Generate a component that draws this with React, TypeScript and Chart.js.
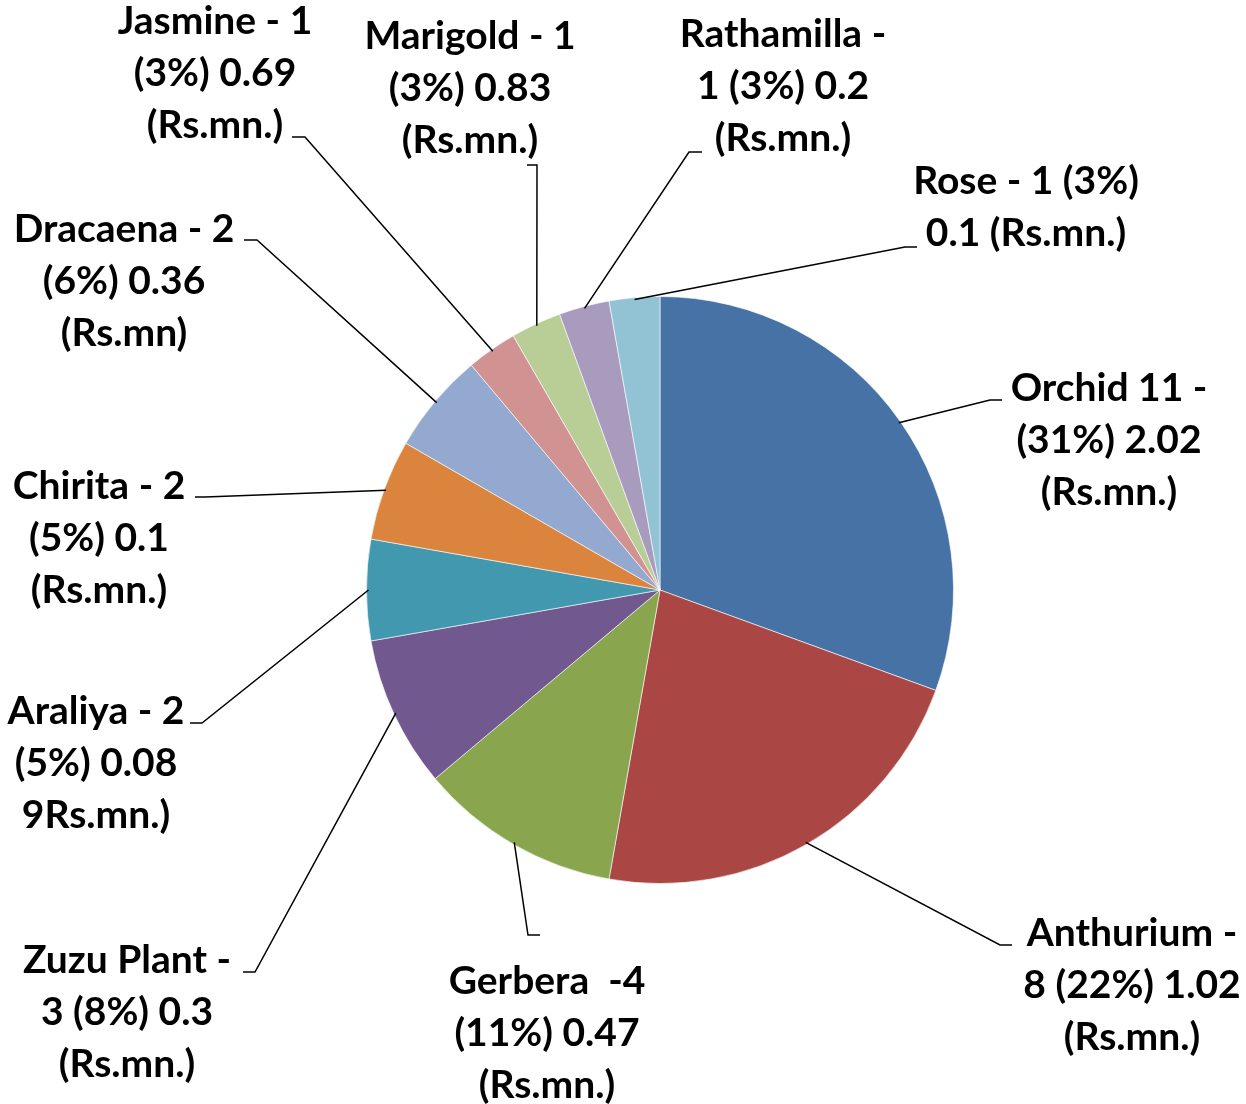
import React, { useEffect, useRef } from "react";
import { Chart, registerables } from "chart.js";

Chart.register(...registerables);

const categories = [
  "Orchid", "Anthurium", "Gerbera", "Zuzu Plant", "Araliya", "Chirita",
  "Dracaena", "Jasmine", "Marigold", "Rathamilla", "Rose",
];
const counts = [11, 8, 4, 3, 2, 2, 2, 1, 1, 1, 1];
const labelLines = [
  ["Orchid 11 -", "(31%) 2.02", "(Rs.mn.)"],
  ["Anthurium -", "8 (22%) 1.02", "(Rs.mn.)"],
  ["Gerbera  -4", "(11%) 0.47", "(Rs.mn.)"],
  ["Zuzu Plant -", "3 (8%) 0.3", "(Rs.mn.)"],
  ["Araliya - 2", "(5%) 0.08", "9Rs.mn.)"],
  ["Chirita - 2", "(5%) 0.1", "(Rs.mn.)"],
  ["Dracaena - 2", "(6%) 0.36", "(Rs.mn)"],
  ["Jasmine - 1", "(3%) 0.69", "(Rs.mn.)"],
  ["Marigold - 1", "(3%) 0.83", "(Rs.mn.)"],
  ["Rathamilla -", "1 (3%) 0.2", "(Rs.mn.)"],
  ["Rose - 1 (3%)", "0.1 (Rs.mn.)"],
];
const colors = [
  "#4672A6", "#AA4644", "#89A54E", "#71588F", "#4198AF", "#DB843D",
  "#93A9CF", "#D19392", "#B9CD96", "#A99BBD", "#92C3D4",
];

// label layout: text center x, first line center y, elbow point, line end point
const labelLayout = [
  { cx: 1109, cy: 388, elbow: [990, 400], end: [1002, 400] },
  { cx: 1132, cy: 933, elbow: [1000, 945], end: [1012, 945] },
  { cx: 547, cy: 981, elbow: [528, 935], end: [540, 935] },
  { cx: 127, cy: 960, elbow: [255, 972], end: [243, 972] },
  { cx: 96, cy: 711, elbow: [202, 723], end: [190, 723] },
  { cx: 99, cy: 486, elbow: [205, 497], end: [195, 497] },
  { cx: 124, cy: 229, elbow: [257, 240], end: [244, 240] },
  { cx: 215, cy: 21, elbow: [305, 137], end: [292, 137] },
  { cx: 470, cy: 36, elbow: [537, 165], end: [527, 165] },
  { cx: 783, cy: 34, elbow: [689, 152], end: [702, 152] },
  { cx: 1026, cy: 181, elbow: [905, 247], end: [917, 247] },
];

const LINE_H = 52;
const FONT = "bold 39px Lato";

const labelPlugin = {
  id: "pieLabels",
  afterDatasetsDraw(chart: any) {
    const ctx = chart.ctx;
    const meta = chart.getDatasetMeta(0);
    ctx.save();
    meta.data.forEach((arc: any, i: number) => {
      const { x, y, startAngle, endAngle, outerRadius } = arc.getProps(
        ["x", "y", "startAngle", "endAngle", "outerRadius"],
        true
      );
      const mid = (startAngle + endAngle) / 2;
      const sx = x + Math.cos(mid) * (outerRadius - 2);
      const sy = y + Math.sin(mid) * (outerRadius - 2);
      const L = labelLayout[i];
      ctx.strokeStyle = "#000";
      ctx.lineWidth = 1.5;
      ctx.beginPath();
      ctx.moveTo(sx, sy);
      ctx.lineTo(L.elbow[0], L.elbow[1]);
      ctx.lineTo(L.end[0], L.end[1]);
      ctx.stroke();
      ctx.fillStyle = "#000";
      ctx.font = FONT;
      ctx.textAlign = "center";
      ctx.textBaseline = "middle";
      labelLines[i].forEach((t, j) => {
        ctx.fillText(t, L.cx, L.cy + j * LINE_H);
      });
    });
    ctx.restore();
  },
};

export default function App() {
  const ref = useRef<HTMLCanvasElement>(null);
  useEffect(() => {
    if (!ref.current) return;
    const chart = new Chart(ref.current, {
      type: "pie",
      data: {
        labels: categories,
        datasets: [
          {
            data: counts,
            backgroundColor: colors,
            borderColor: "rgba(255,255,255,0.6)",
            borderWidth: 1,
          },
        ],
      },
      options: {
        animation: false,
        responsive: false,
        layout: { padding: { left: 366, right: 292, top: 296, bottom: 220 } },
        plugins: {
          legend: { display: false },
          tooltip: { enabled: false },
        },
      },
      plugins: [labelPlugin],
    });
    return () => chart.destroy();
  }, []);
  return (
    <div style={{ position: "fixed", left: 0, top: 0, width: 1246, height: 1104, background: "#fff" }}>
      <canvas ref={ref} width={1246} height={1104} style={{ width: 1246, height: 1104 }} />
    </div>
  );
}
